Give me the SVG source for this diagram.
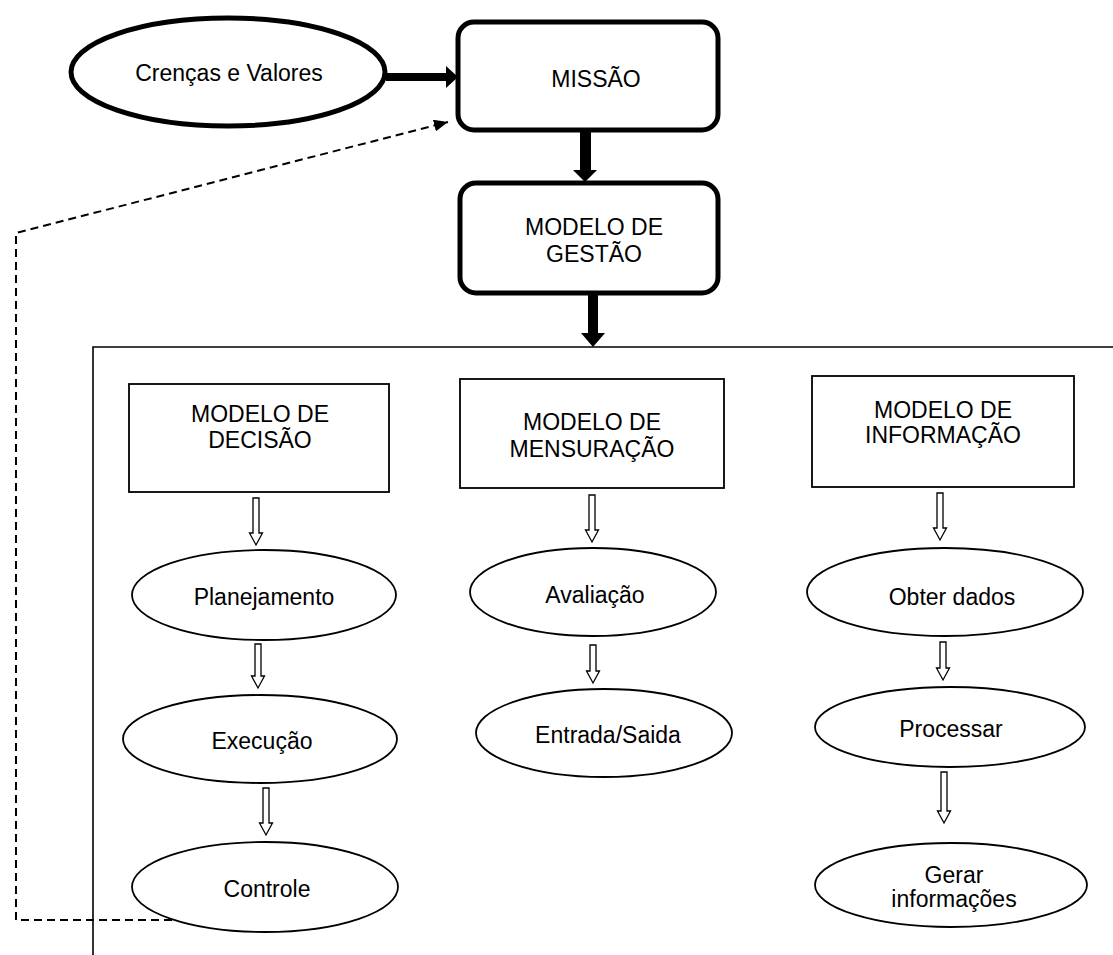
<svg xmlns="http://www.w3.org/2000/svg" width="1113" height="955" viewBox="0 0 1113 955">
  <style>
    text { font-family: "Liberation Sans", Arial, sans-serif; font-size: 23px; fill: #000; text-anchor: middle; }
    .thick { fill: #fff; stroke: #000; stroke-width: 5; }
    .thin { fill: #fff; stroke: #000; stroke-width: 1.8; }
    .frame { fill: none; stroke: #000; stroke-width: 1.6; }
    .solid-arrow { fill: #000; stroke: none; }
    .hollow-arrow { fill: #fff; stroke: #000; stroke-width: 1.3; stroke-linejoin: miter; }
    .feedback { fill: none; stroke: #000; stroke-width: 2; stroke-dasharray: 8 5; }
  </style>
  <defs>
    <marker id="dash-head" markerUnits="userSpaceOnUse" markerWidth="16" markerHeight="12" refX="14" refY="6" orient="auto">
      <path d="M0,0 L14,6 L0,12 z" fill="#000"/>
    </marker>
  </defs>
  <rect width="1113" height="955" fill="#fff"/>

  <!-- frame around the three models -->
  <g id="frame">
    <path class="frame" d="M93,955 L93,347 L1113,347"/>
  </g>

  <g id="crencas">
    <ellipse class="thick" cx="228" cy="72" rx="157" ry="54"/>
    <text x="229" y="81">Crenças e Valores</text>
  </g>

  <g id="missao">
    <rect class="thick" x="458" y="22" width="260" height="108" rx="16"/>
    <text x="596" y="87">MISSÃO</text>
  </g>

  <g id="gestao">
    <rect class="thick" x="460" y="183" width="258" height="110" rx="16"/>
    <text x="594" y="235">MODELO DE</text>
    <text x="594" y="262">GESTÃO</text>
  </g>

  <g id="decisao">
    <rect class="thin" x="129" y="384" width="260" height="108"/>
    <text x="260" y="422">MODELO DE</text>
    <text x="260" y="448">DECISÃO</text>
  </g>

  <g id="mensuracao">
    <rect class="thin" x="460" y="379" width="264" height="109"/>
    <text x="592" y="430">MODELO DE</text>
    <text x="592" y="457">MENSURAÇÃO</text>
  </g>

  <g id="informacao">
    <rect class="thin" x="812" y="376" width="262" height="111"/>
    <text x="943" y="418">MODELO DE</text>
    <text x="943" y="443">INFORMAÇÃO</text>
  </g>

  <g id="planejamento">
    <ellipse class="thin" cx="264" cy="595" rx="132" ry="45"/>
    <text x="264" y="605">Planejamento</text>
  </g>

  <g id="execucao">
    <ellipse class="thin" cx="260" cy="739" rx="137" ry="44"/>
    <text x="262" y="749">Execução</text>
  </g>

  <g id="controle">
    <ellipse class="thin" cx="265" cy="887" rx="133" ry="45"/>
    <text x="267" y="897">Controle</text>
  </g>

  <g id="avaliacao">
    <ellipse class="thin" cx="593" cy="592" rx="123" ry="44"/>
    <text x="595" y="603">Avaliação</text>
  </g>

  <g id="entrada-saida">
    <ellipse class="thin" cx="604" cy="733" rx="128" ry="44"/>
    <text x="608" y="743">Entrada/Saida</text>
  </g>

  <g id="obter-dados">
    <ellipse class="thin" cx="945" cy="592" rx="138" ry="44"/>
    <text x="952" y="605">Obter dados</text>
  </g>

  <g id="processar">
    <ellipse class="thin" cx="950" cy="727" rx="135" ry="40"/>
    <text x="951" y="737">Processar</text>
  </g>

  <g id="gerar">
    <ellipse class="thin" cx="951" cy="885" rx="136" ry="42"/>
    <text x="954" y="883">Gerar</text>
    <text x="954" y="907">informações</text>
  </g>

  <g id="connectors">
    <!-- bold arrows of the upper chain -->
    <path class="solid-arrow" d="M386,73 L446,73 L446,66 L458,77 L446,88 L446,81 L386,81 z"/>
    <path class="solid-arrow" d="M580,131 L591,131 L591,170 L597,170 L585,182 L573,170 L580,170 z"/>
    <path class="solid-arrow" d="M588,294 L598,294 L598,333 L605,333 L593,347 L581,333 L588,333 z"/>

    <!-- outlined arrows inside the frame -->
    <path class="hollow-arrow" d="M253,498 L259,498 L259,533 L262.5,533 L256,545 L249.5,533 L253,533 z"/>
    <path class="hollow-arrow" d="M255,644 L261,644 L261,676 L264.5,676 L258,688 L251.5,676 L255,676 z"/>
    <path class="hollow-arrow" d="M263,788 L269,788 L269,823 L272.5,823 L266,835 L259.5,823 L263,823 z"/>

    <path class="hollow-arrow" d="M589,495 L595,495 L595,530 L598.5,530 L592,542 L585.5,530 L589,530 z"/>
    <path class="hollow-arrow" d="M590,645 L596,645 L596,671 L599.5,671 L593,683 L586.5,671 L590,671 z"/>

    <path class="hollow-arrow" d="M937,493 L943,493 L943,528 L946.5,528 L940,540 L933.5,528 L937,528 z"/>
    <path class="hollow-arrow" d="M940,642 L946,642 L946,668 L949.5,668 L943,680 L936.5,668 L940,668 z"/>
    <path class="hollow-arrow" d="M941,772 L947,772 L947,811 L950.5,811 L944,823 L937.5,811 L941,811 z"/>

    <!-- dashed feedback loop from Controle back to the mission -->
    <path class="feedback" d="M172,920 L16,920 L16,233 L448,122" marker-end="url(#dash-head)"/>
  </g>
</svg>
